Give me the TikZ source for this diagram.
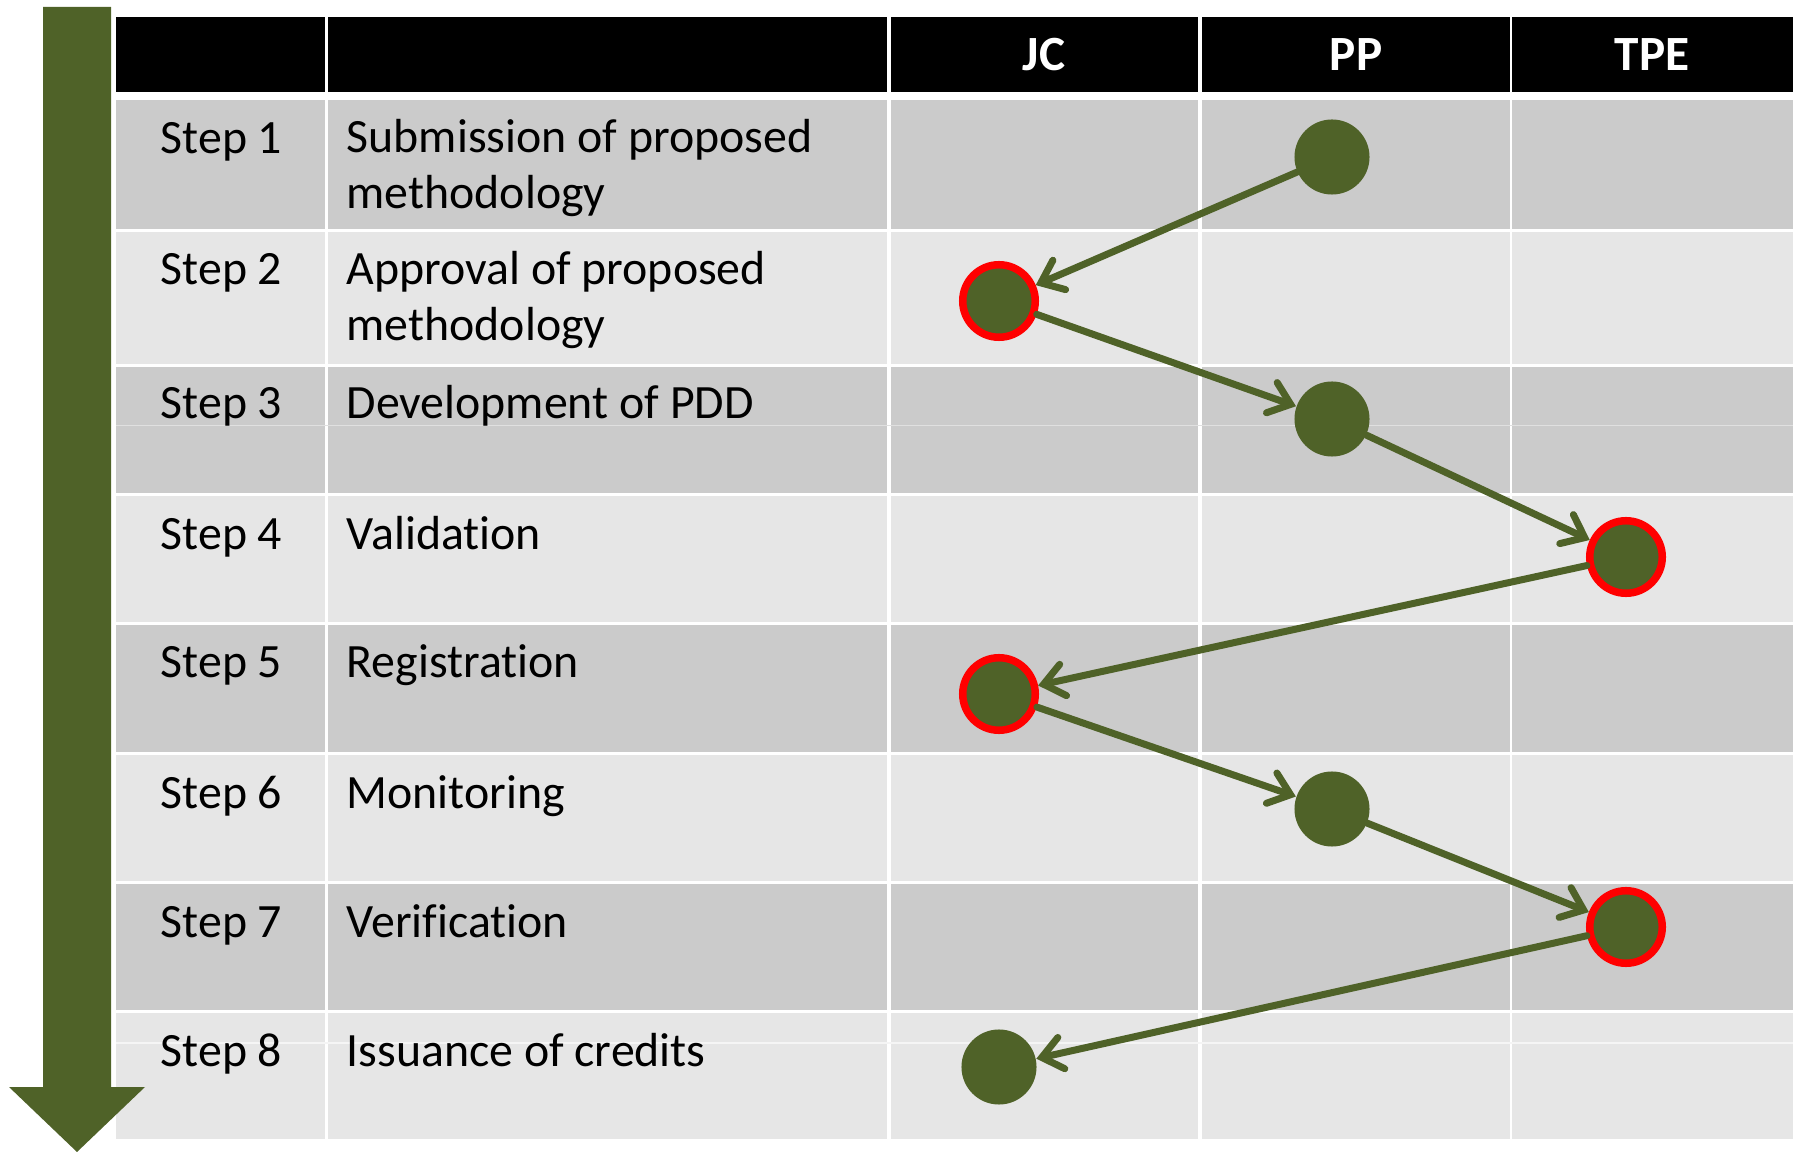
\documentclass[tikz,border=0pt]{standalone}
\usepackage{fontspec}
\setmainfont{Carlito}[Ligatures=NoCommon]
\usetikzlibrary{arrows.meta}

\definecolor{olive}{HTML}{4F6228}
\definecolor{rowdark}{HTML}{CBCBCB}
\definecolor{rowlight}{HTML}{E6E6E6}

\tikzset{
  dot/.style={circle, fill=olive, minimum size=0.75cm, inner sep=0pt},
  reddot/.style={dot, draw=red, line width=0.075cm, minimum size=0.725cm},
  link/.style={olive, line width=0.07cm, line cap=round,
    -{Straight Barb[length=0.2cm, width=0.32cm, line cap=round]}},
  steptext/.style={anchor=base west, inner sep=0pt, align=left,
    font=\fontsize{13.6}{16}\selectfont},
  headtext/.style={anchor=base, inner sep=0pt, text=white,
    font=\bfseries\fontsize{14}{16}\selectfont},
}

\begin{document}
\begin{tikzpicture}[x=0.01cm,y=-0.01cm]
        \useasboundingbox (0,0) rectangle (1793,1152);
        % table
        \foreach \l/\r in {116/325,328/887,891/1198,1202/1510,1512/1793}
          \fill[black] (\l,17) rectangle (\r,92);
        \foreach \t/\b/\c in {100/229/rowdark,232/364/rowlight,367/493/rowdark,
            496/622/rowlight,625/752/rowdark,755/881/rowlight,884/1010/rowdark,
            1013/1139/rowlight}
          \foreach \l/\r in {116/325,328/887,891/1198,1202/1510,1512/1793}
            \fill[\c] (\l,\t) rectangle (\r,\b);
        \draw[white!40!rowdark, line width=0.01cm] (116,426) -- (1793,426);
        \draw[white!60!rowlight, line width=0.012cm] (116,1043) -- (1793,1043);
        % big arrow
        \fill[olive] (43,7) -- (111,7) -- (111,1087) -- (145,1087) -- (77,1152)
          -- (9,1087) -- (43,1087) -- cycle;
        % header
        \node[headtext] (jc)  at (1044,71) {JC};
        \node[headtext] (pp)  at (1356,71) {PP};
        \node[headtext] (tpe) at (1652,71) {TPE};
        % steps
        \node[steptext] (s1) at (160,154)  {Step 1};
        \node[steptext] (s2) at (160,285)  {Step 2};
        \node[steptext] (s3) at (160,419)  {Step 3};
        \node[steptext] (s4) at (160,550)  {Step 4};
        \node[steptext] (s5) at (160,678)  {Step 5};
        \node[steptext] (s6) at (160,808)  {Step 6};
        \node[steptext] (s7) at (160,937)  {Step 7};
        \node[steptext] (s8) at (160,1066) {Step 8};
        % base of a two-line node is its last line
        \node[steptext] (d1) at (346,209)  {Submission of proposed\\methodology};
        \node[steptext] (d2) at (346,341)  {Approval of proposed\\methodology};
        \node[steptext] (d3) at (346,419)  {Development of PDD};
        \node[steptext] (d4) at (346,550)  {Validation};
        \node[steptext] (d5) at (346,678)  {Registration};
        \node[steptext] (d6) at (346,808)  {Monitoring};
        \node[steptext] (d7) at (346,937)  {Verification};
        \node[steptext] (d8) at (346,1066) {Issuance of credits};
        % who does what
        \node[dot]    (c1) at (1332,157)  {};
        \node[reddot] (c2) at (999,301)   {};
        \node[dot]    (c3) at (1332,419)  {};
        \node[reddot] (c4) at (1626,557)  {};
        \node[reddot] (c5) at (999,694)   {};
        \node[dot]    (c6) at (1332,809)  {};
        \node[reddot] (c7) at (1626,927)  {};
        \node[dot]    (c8) at (999,1067)  {};
        \draw[link] (c1) -- (c2);
        \draw[link] (c2) -- (c3);
        \draw[link] (c3) -- (c4);
        \draw[link] (c4) -- (c5);
        \draw[link] (c5) -- (c6);
        \draw[link] (c6) -- (c7);
        \draw[link] (c7) -- (c8);
\end{tikzpicture}
\end{document}
